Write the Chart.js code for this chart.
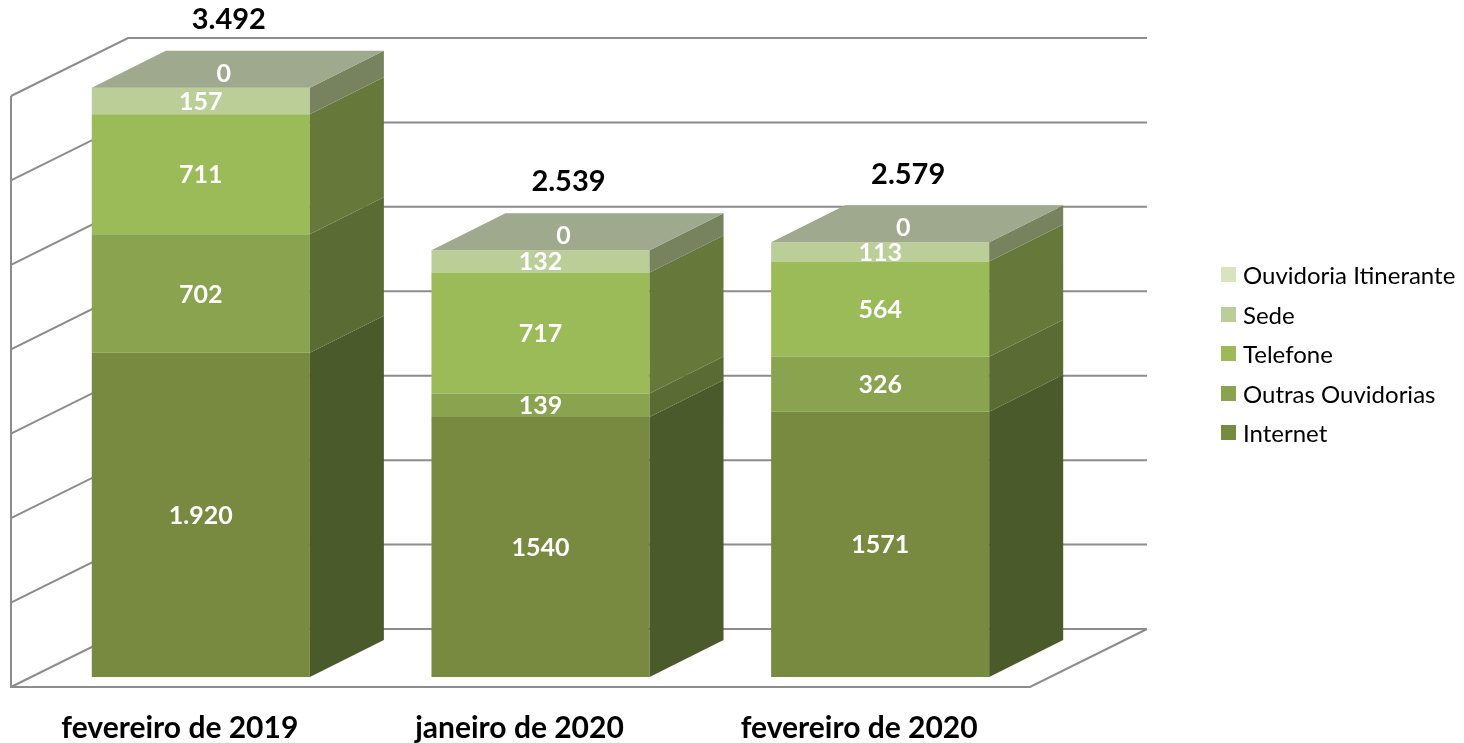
<!DOCTYPE html>
<html lang="pt-BR">
<head>
<meta charset="utf-8">
<title>Manifestações por canal</title>
<script src="https://cdn.jsdelivr.net/npm/chart.js@4.4.1/dist/chart.umd.min.js"></script>
<style>
  html, body { margin: 0; padding: 0; background: #fff; }
  #wrap { position: relative; width: 1464px; height: 743px; }
  #legenda { position: absolute; left: 1221px; top: 255px; font-family: Lato, "Open Sans", sans-serif; font-size: 24px; color: #000; }
  .item { display: flex; align-items: center; height: 39.5px; white-space: nowrap; }
  .cor { width: 15px; height: 15px; margin-right: 7px; flex: none; }
</style>
</head>
<body>
<div id="wrap">
  <canvas id="grafico" width="1464" height="743"></canvas>
  <div id="legenda"></div>
</div>
<script>
// Dados
const categorias = ['fevereiro de 2019', 'janeiro de 2020', 'fevereiro de 2020'];
const internet = [1920, 1540, 1571];
const outrasOuvidorias = [702, 139, 326];
const telefone = [711, 717, 564];
const sede = [157, 132, 113];
const ouvidoriaItinerante = [0, 0, 0];
const totais = [3492, 2539, 2579];   // totais como aparecem no original
const yTicks = [0, 500, 1000, 1500, 2000, 2500, 3000, 3500];
const comSeparador = [true, false, false]; // o 1º mês mostra "1.920", os outros "1540"

const FONTE = 'Lato, "Open Sans", sans-serif';
const TOPO = '#9ea98e';
const DX = 74, DY = -37;              // profundidade das barras
const FUNDO = { x: 97, y: -48 };      // parede do fundo
const FRENTE = { x: -20, y: 10 };     // borda da frente do piso

const series = [
  { label: 'Internet', data: internet, cor: '#788a40', lado: '#4a5a2a' },
  { label: 'Outras Ouvidorias', data: outrasOuvidorias, cor: '#89a34e', lado: '#5a6b33' },
  { label: 'Telefone', data: telefone, cor: '#9bbb59', lado: '#66793a' },
  { label: 'Sede', data: sede, cor: '#bbce97', lado: '#77825f' },
  { label: 'Ouvidoria Itinerante', data: ouvidoriaItinerante, cor: '#d7e4bd', lado: '#77825f' }
];

function face(ctx, pts, cor) {
  ctx.beginPath();
  ctx.moveTo(pts[0][0], pts[0][1]);
  pts.slice(1).forEach(p => ctx.lineTo(p[0], p[1]));
  ctx.closePath();
  ctx.fillStyle = cor;
  ctx.fill();
}

const cena3d = {
  id: 'cena3d',
  beforeDatasetsDraw(chart) {
    const { ctx, chartArea: a, scales: { y } } = chart;
    const topo = y.getPixelForValue(yTicks[yTicks.length - 1]);
    const base = y.getPixelForValue(0);
    ctx.save();
    ctx.strokeStyle = '#8c8c8c';
    ctx.lineWidth = 2;
    ctx.beginPath();
    yTicks.forEach(v => {
      const py = y.getPixelForValue(v);
      ctx.moveTo(a.left + FRENTE.x, py + FRENTE.y);
      ctx.lineTo(a.left + FUNDO.x, py + FUNDO.y);
      ctx.lineTo(a.right + FUNDO.x, py + FUNDO.y);
    });
    ctx.moveTo(a.left + FRENTE.x, topo + FRENTE.y);
    ctx.lineTo(a.left + FRENTE.x, base + FRENTE.y);
    ctx.lineTo(a.right + FRENTE.x, base + FRENTE.y);
    ctx.lineTo(a.right + FUNDO.x, base + FUNDO.y);
    ctx.stroke();
    ctx.restore();
  },
  afterDatasetsDraw(chart) {
    const { ctx } = chart;
    const n = chart.data.datasets.length;
    ctx.save();
    // faces laterais
    chart.data.datasets.forEach((ds, i) => {
      chart.getDatasetMeta(i).data.forEach(bar => {
        const r = bar.x + bar.width / 2;
        if (bar.base - bar.y < 0.5) return;
        face(ctx, [[r, bar.y], [r + DX, bar.y + DY], [r + DX, bar.base + DY], [r, bar.base]], series[i].lado);
      });
    });
    // face de cima
    chart.getDatasetMeta(n - 1).data.forEach(bar => {
      const l = bar.x - bar.width / 2, r = bar.x + bar.width / 2;
      face(ctx, [[l, bar.y], [l + DX, bar.y + DY], [r + DX, bar.y + DY], [r, bar.y]], TOPO);
    });

    // rótulos
    ctx.textAlign = 'center';
    ctx.textBaseline = 'middle';
    ctx.fillStyle = '#fff';
    ctx.font = 'bold 25px ' + FONTE;
    chart.data.datasets.forEach((ds, i) => {
      chart.getDatasetMeta(i).data.forEach((bar, j) => {
        const v = ds.data[j];
        const txt = comSeparador[j] ? v.toLocaleString('pt-BR') : String(v);
        if (i === n - 1) ctx.fillText(txt, bar.x + 23, bar.y - 14);
        else ctx.fillText(txt, bar.x, (bar.y + bar.base) / 2 + 1);
      });
    });
    // totais
    ctx.fillStyle = '#000';
    ctx.font = 'bold 29px ' + FONTE;
    chart.getDatasetMeta(n - 1).data.forEach((bar, j) => {
      ctx.fillText(totais[j].toLocaleString('pt-BR'), bar.x + 28, bar.y - 68);
    });
    ctx.restore();
  }
};

new Chart(document.getElementById('grafico'), {
  type: 'bar',
  data: {
    labels: categorias,
    datasets: series.map(s => ({
      label: s.label,
      data: s.data,
      backgroundColor: s.cor,
      borderWidth: 0,
      categoryPercentage: 1,
      barPercentage: 0.642
    }))
  },
  options: {
    responsive: false,
    animation: false,
    layout: { padding: { left: 31, right: 414, top: 86, bottom: 0 } },
    plugins: { legend: { display: false }, tooltip: { enabled: false } },
    scales: {
      x: {
        stacked: true,
        grid: { display: false, drawTicks: false },
        border: { display: false },
        ticks: { color: '#000', font: { family: FONTE, size: 30, weight: 'bold' }, padding: 33, labelOffset: -21 },
        afterFit: s => { s.height = 66; }
      },
      y: {
        stacked: true,
        display: false,
        min: 0,
        max: 3500,
        ticks: { stepSize: 500 }
      }
    }
  },
  plugins: [cena3d]
});

// legenda (ordem inversa, como no original)
const leg = document.getElementById('legenda');
series.slice().reverse().forEach(s => {
  const d = document.createElement('div');
  d.className = 'item';
  d.innerHTML = `<span class="cor" style="background:${s.cor}"></span><span>${s.label}</span>`;
  leg.appendChild(d);
});
</script>
</body>
</html>
